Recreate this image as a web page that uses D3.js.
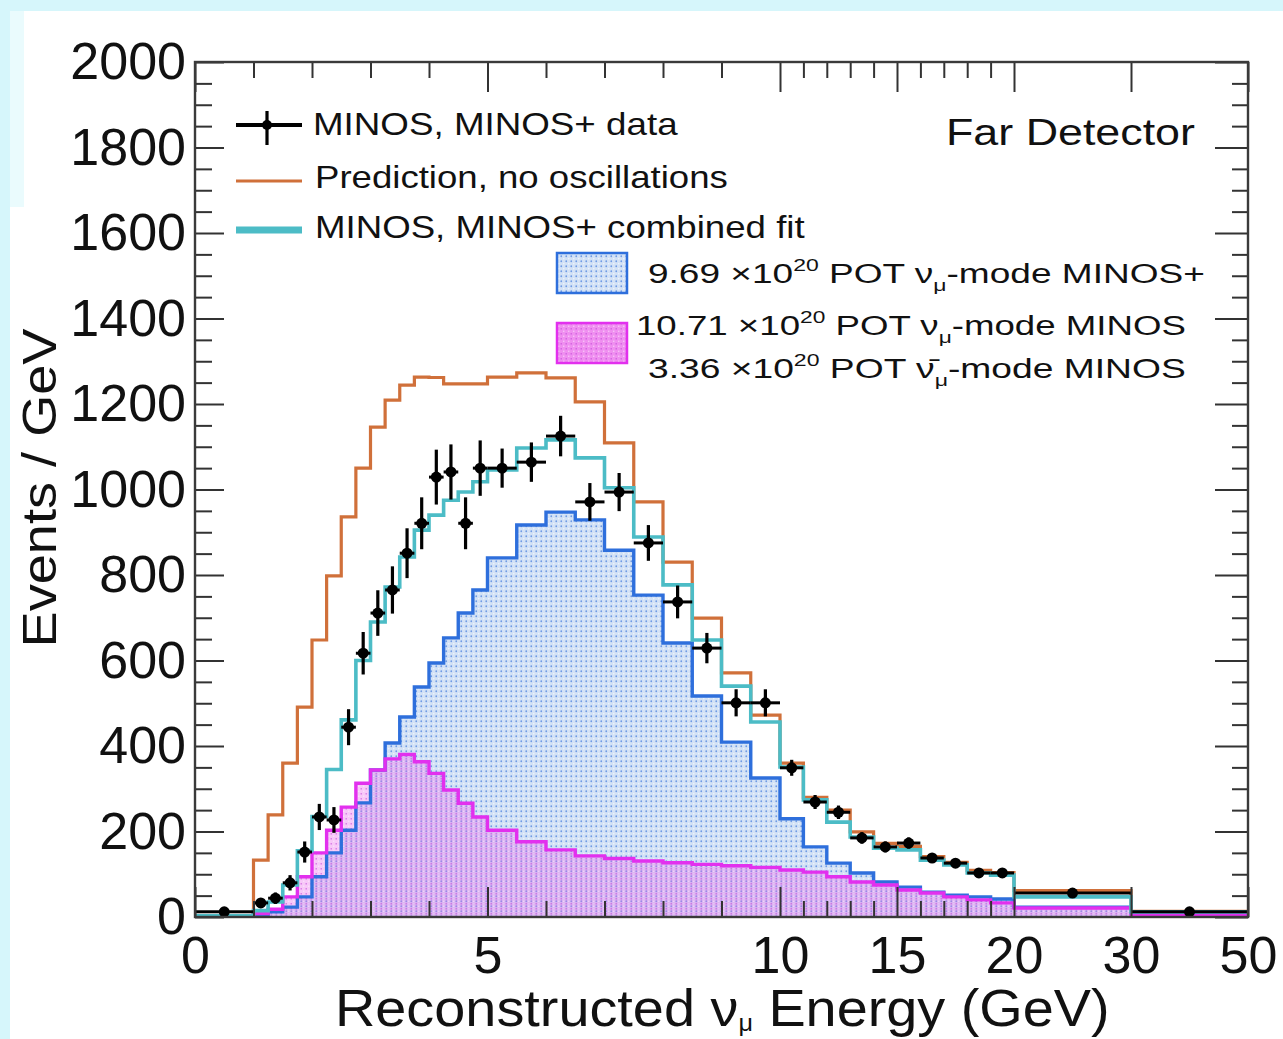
<!DOCTYPE html>
<html>
<head>
<meta charset="utf-8">
<script src="https://cdn.jsdelivr.net/npm/d3@7"></script>
<style>
  body { margin: 0; background: #ffffff; }
  svg { display: block; }
  text { font-family: "Liberation Sans", Arial, Helvetica, sans-serif; fill: #111; }
</style>
</head>
<body>
<svg id="chart" width="1283" height="1039"></svg>
<script>
// ---- Binning (GeV) ----
const binEdges = [0, 1, 1.25, 1.5, 1.75, 2, 2.25, 2.5, 2.75, 3, 3.25, 3.5, 3.75, 4, 4.25, 4.5, 4.75, 5,
                  5.5, 6, 6.5, 7, 7.5, 8, 8.5, 9, 9.5, 10,
                  11, 12, 13, 14, 15, 16, 17, 18, 19, 20, 30, 50];

// ---- Far Detector spectra, events / GeV, one value per bin ----
const dataValues = [12, 33, 44, 80, 152, 234, 227, 444, 617, 711, 765, 851, 921, 1029, 1041, 921, 1050,
                    1050, 1064, 1125, 971, 994, 875, 737, 629, 501, 501,
                    349, 269, 245, 185, 164, 173, 138, 126, 103, 103, 56, 12];
const dataErrors = [3.5, 11.5, 13.3, 17.9, 24.7, 30.6, 30.1, 42.1, 49.7, 53.3, 55.3, 58.3, 60.7, 64.2, 64.5, 60.7, 64.8,
                    45.8, 46.1, 47.4, 44.1, 44.6, 41.8, 38.4, 35.5, 31.7, 31.7,
                    18.7, 16.4, 15.7, 13.6, 12.8, 13.2, 11.7, 11.2, 10.1, 10.1, 2.4, 0.8];
const predictionNoOsc = [2, 133, 239, 360, 491, 648, 798, 936, 1050, 1146, 1209, 1244, 1263, 1262, 1247, 1247, 1247,
                         1263, 1273, 1261, 1205, 1109, 971, 830, 699, 571, 472,
                         360, 280, 250, 199, 172, 165, 141, 128, 109, 104, 62, 13];
const combinedFit = [3, 15, 35, 75, 155, 235, 345, 461, 600, 690, 772, 842, 905, 940, 975, 994, 1018,
                     1046, 1097, 1116, 1074, 1004, 889, 777, 648, 540, 456,
                     351, 274, 222, 187, 161, 157, 133, 122, 103, 98, 47, 12];
const minosPlusNuMu = [2, 5, 12, 23, 47, 94, 150, 203, 267, 344, 407, 468, 538, 594, 653, 711, 765,
                       840, 917, 947, 929, 858, 753, 641, 517, 409, 325,
                       230, 164, 126, 103, 82, 70, 58, 51, 47, 42, 23, 10];
const minosNuMu = [2, 8, 18, 47, 94, 150, 203, 257, 313, 344, 370, 380, 363, 336, 297, 266, 234,
                   203, 176, 157, 143, 137, 131, 127, 123, 120, 116,
                   110, 105, 94, 82, 75, 63, 56, 47, 40, 33, 21, 5];

// ---- Axis ticks ----
const xTickValues = [0, 5, 10, 15, 20, 30, 50];
const xMinorTicks = [1, 2, 3, 4, 6, 7, 8, 9, 11, 12, 13, 14, 16, 17, 18, 19];
const yTickValues = [0, 200, 400, 600, 800, 1000, 1200, 1400, 1600, 1800, 2000];
const yMinorTicks = [50, 100, 150, 250, 300, 350, 450, 500, 550, 650, 700, 750, 850, 900, 950,
                     1050, 1100, 1150, 1250, 1300, 1350, 1450, 1500, 1550, 1650, 1700, 1750, 1850, 1900, 1950];

// ---- Colours ----
const colOrange = "#d0703a";
const colTeal = "#4cbcc6";
const colBlue = "#2e6fdc";
const colMagenta = "#e230ee";

const svg = d3.select("#chart");
const W = 1283, H = 1039;
const frame = { left: 195, right: 1248, top: 62, bottom: 917 };
const fw = frame.right - frame.left;

// page background strips
svg.append("rect").attr("x", 0).attr("y", 0).attr("width", W).attr("height", H).attr("fill", "#ffffff");
svg.append("rect").attr("x", 0).attr("y", 0).attr("width", W).attr("height", 11).attr("fill", "#d6f6fb");
svg.append("rect").attr("x", 0).attr("y", 0).attr("width", 10).attr("height", H).attr("fill", "#d6f6fb");
svg.append("rect").attr("x", 10).attr("y", 11).attr("width", 14).attr("height", 196).attr("fill", "#eafbfd");

// piecewise energy axis: 0-10 wide, 10-20, 20-30, 30-50 compressed
const x = d3.scaleLinear()
  .domain([0, 10, 20, 30, 50])
  .range([frame.left, frame.left + fw * 5 / 9, frame.left + fw * 7 / 9, frame.left + fw * 8 / 9, frame.right]);
const y = d3.scaleLinear().domain([0, 2000]).range([frame.bottom, frame.top]);

const defs = svg.append("defs");
defs.append("clipPath").attr("id", "plotClip")
  .append("rect").attr("x", frame.left).attr("y", frame.top)
  .attr("width", fw).attr("height", frame.bottom - frame.top);

// dotted fills
const pb = defs.append("pattern").attr("id", "fillMinosPlus")
  .attr("width", 5).attr("height", 5).attr("patternUnits", "userSpaceOnUse");
pb.append("rect").attr("width", 5).attr("height", 5).attr("fill", "#d3e2f6");
pb.append("circle").attr("cx", 1.25).attr("cy", 1.25).attr("r", 0.9).attr("fill", "#6f9be4");
pb.append("circle").attr("cx", 3.75).attr("cy", 3.75).attr("r", 0.75).attr("fill", "#f3f7fd");

const pm = defs.append("pattern").attr("id", "fillMinos")
  .attr("width", 5).attr("height", 5).attr("patternUnits", "userSpaceOnUse");
pm.append("rect").attr("width", 5).attr("height", 5).attr("fill", "#e866ec").attr("fill-opacity", 0.36);
pm.append("circle").attr("cx", 1.25).attr("cy", 3.75).attr("r", 0.85).attr("fill", "#c03ad8").attr("fill-opacity", 0.6);
pm.append("circle").attr("cx", 3.75).attr("cy", 1.25).attr("r", 0.75).attr("fill", "#ffffff").attr("fill-opacity", 0.55);

// ---- histogram helpers ----
const stepPoints = vals => vals.map((v, i) => [binEdges[i], v])
  .concat([[binEdges[binEdges.length - 1], vals[vals.length - 1]]]);
const stepLine = d3.line().x(d => x(d[0])).y(d => y(d[1])).curve(d3.curveStepAfter);
const stepArea = d3.area().x(d => x(d[0])).y0(y(0)).y1(d => y(d[1])).curve(d3.curveStepAfter);

const plot = svg.append("g").attr("clip-path", "url(#plotClip)");

plot.append("path").attr("d", stepArea(stepPoints(minosPlusNuMu))).attr("fill", "url(#fillMinosPlus)");
plot.append("path").attr("d", stepArea(stepPoints(minosNuMu))).attr("fill", "url(#fillMinos)");
plot.append("path").attr("d", stepLine(stepPoints(minosPlusNuMu)))
  .attr("fill", "none").attr("stroke", colBlue).attr("stroke-width", 3.4);
plot.append("path").attr("d", stepLine(stepPoints(minosNuMu)))
  .attr("fill", "none").attr("stroke", colMagenta).attr("stroke-width", 3.4);
plot.append("path").attr("d", stepLine(stepPoints(predictionNoOsc)))
  .attr("fill", "none").attr("stroke", colOrange).attr("stroke-width", 3.2);
plot.append("path").attr("d", stepLine(stepPoints(combinedFit)))
  .attr("fill", "none").attr("stroke", colTeal).attr("stroke-width", 3.6);

// ---- data points with errors ----
const pts = dataValues.map((v, i) => ({
  lo: binEdges[i], hi: binEdges[i + 1], c: (binEdges[i] + binEdges[i + 1]) / 2, v, e: dataErrors[i]
}));
const dg = plot.append("g");
dg.selectAll("line.h").data(pts).join("line").attr("class", "h")
  .attr("x1", d => x(d.lo)).attr("x2", d => x(d.hi))
  .attr("y1", d => y(d.v)).attr("y2", d => y(d.v))
  .attr("stroke", "#000").attr("stroke-width", 3);
dg.selectAll("line.v").data(pts).join("line").attr("class", "v")
  .attr("x1", d => x(d.c)).attr("x2", d => x(d.c))
  .attr("y1", d => y(d.v - d.e)).attr("y2", d => y(d.v + d.e))
  .attr("stroke", "#000").attr("stroke-width", 3.2);
dg.selectAll("circle").data(pts).join("circle")
  .attr("cx", d => x(d.c)).attr("cy", d => y(d.v)).attr("r", 5.5).attr("fill", "#000");

// ---- axes ----
const tickColor = "#333";
function styleAxis(g) {
  g.select(".domain").remove();
  g.selectAll(".tick line").attr("stroke", tickColor).attr("stroke-width", 2);
  g.selectAll(".tick text").attr("font-size", 52).attr("fill", "#111")
    .attr("font-family", '"Liberation Sans", Arial, Helvetica, sans-serif');
}
svg.append("g").attr("transform", `translate(0,${frame.bottom})`)
  .call(d3.axisBottom(x).tickValues(xTickValues).tickFormat(d3.format("d"))
    .tickSizeInner(-30).tickSizeOuter(0).tickPadding(19))
  .call(styleAxis);
svg.append("g").attr("transform", `translate(0,${frame.bottom})`)
  .call(d3.axisBottom(x).tickValues(xMinorTicks).tickFormat("").tickSizeInner(-16).tickSizeOuter(0))
  .call(styleAxis);
svg.append("g").attr("transform", `translate(0,${frame.top})`)
  .call(d3.axisTop(x).tickValues(xTickValues).tickFormat("").tickSizeInner(-30).tickSizeOuter(0))
  .call(styleAxis);
svg.append("g").attr("transform", `translate(0,${frame.top})`)
  .call(d3.axisTop(x).tickValues(xMinorTicks).tickFormat("").tickSizeInner(-16).tickSizeOuter(0))
  .call(styleAxis);
svg.append("g").attr("transform", `translate(${frame.left},0)`)
  .call(d3.axisLeft(y).tickValues(yTickValues).tickFormat(d3.format("d"))
    .tickSizeInner(-29).tickSizeOuter(0).tickPadding(9))
  .call(styleAxis);
svg.append("g").attr("transform", `translate(${frame.left},0)`)
  .call(d3.axisLeft(y).tickValues(yMinorTicks).tickFormat("").tickSizeInner(-17).tickSizeOuter(0))
  .call(styleAxis);
svg.append("g").attr("transform", `translate(${frame.right},0)`)
  .call(d3.axisRight(y).tickValues(yTickValues).tickFormat("").tickSizeInner(-33).tickSizeOuter(0))
  .call(styleAxis);
svg.append("g").attr("transform", `translate(${frame.right},0)`)
  .call(d3.axisRight(y).tickValues(yMinorTicks).tickFormat("").tickSizeInner(-16).tickSizeOuter(0))
  .call(styleAxis);

svg.append("rect").attr("x", frame.left).attr("y", frame.top)
  .attr("width", fw).attr("height", frame.bottom - frame.top)
  .attr("fill", "none").attr("stroke", "#3a3a3a").attr("stroke-width", 2.4);

// ---- text helpers ----
function fitWidth(sel, anchorX, target) {
  const w = sel.node().getBBox().width;
  const sx = target / w;
  sel.attr("transform", `translate(${anchorX},0) scale(${sx},1) translate(${-anchorX},0)`);
}
function richText(parent, xPos, yPos, size, parts, subShift) {
  const t = parent.append("text").attr("x", xPos).attr("y", yPos).attr("font-size", size);
  const sub = subShift === undefined ? 0.28 : subShift;
  let shift = 0;
  parts.forEach(p => {
    const s = t.append("tspan").text(p.t);
    const want = p.sup ? -size * 0.42 : p.sub ? size * sub : 0;
    if (want !== shift) { s.attr("dy", want - shift); shift = want; }
    if (p.sup || p.sub) s.attr("font-size", size * (p.sub && subShift !== undefined ? 0.45 : 0.62));
  });
  return t;
}

// axis titles
const xt = richText(svg, 335, 1026, 52, [
  { t: "Reconstructed ν" }, { t: "μ", sub: true }, { t: " Energy (GeV)" }
], 0.1);
fitWidth(xt, 335, 775);

const yg = svg.append("g").attr("transform", "translate(56,488) rotate(-90)");
const yt = yg.append("text").attr("x", 0).attr("y", 0).attr("text-anchor", "middle")
  .attr("font-size", 48).text("Events / GeV");
yt.attr("transform", `scale(${319 / yt.node().getBBox().width},1)`);

// ---- legend ----
const lg = svg.append("g");
lg.append("line").attr("x1", 236).attr("x2", 302).attr("y1", 125).attr("y2", 125)
  .attr("stroke", "#000").attr("stroke-width", 4);
lg.append("line").attr("x1", 267).attr("x2", 267).attr("y1", 111).attr("y2", 145)
  .attr("stroke", "#000").attr("stroke-width", 3.2);
lg.append("circle").attr("cx", 267).attr("cy", 125).attr("r", 5).attr("fill", "#000");
lg.append("line").attr("x1", 236).attr("x2", 302).attr("y1", 181).attr("y2", 181)
  .attr("stroke", colOrange).attr("stroke-width", 3);
lg.append("line").attr("x1", 236).attr("x2", 302).attr("y1", 230).attr("y2", 230)
  .attr("stroke", colTeal).attr("stroke-width", 7);

const l1 = lg.append("text").attr("x", 313).attr("y", 135).attr("font-size", 32).text("MINOS, MINOS+ data");
fitWidth(l1, 313, 365);
const l2 = lg.append("text").attr("x", 315).attr("y", 188).attr("font-size", 32).text("Prediction, no oscillations");
fitWidth(l2, 315, 413);
const l3 = lg.append("text").attr("x", 315).attr("y", 238).attr("font-size", 32).text("MINOS, MINOS+ combined fit");
fitWidth(l3, 315, 490);

lg.append("rect").attr("x", 557).attr("y", 253).attr("width", 70).attr("height", 40)
  .attr("fill", "url(#fillMinosPlus)").attr("stroke", colBlue).attr("stroke-width", 2.5);
lg.append("rect").attr("x", 557).attr("y", 323).attr("width", 70).attr("height", 40)
  .attr("fill", "#f3a6f3").attr("stroke", "none");
lg.append("rect").attr("x", 557).attr("y", 323).attr("width", 70).attr("height", 40)
  .attr("fill", "url(#fillMinos)").attr("stroke", colMagenta).attr("stroke-width", 2.5);

const l4 = richText(lg, 648, 283, 28, [
  { t: "9.69 ×10" }, { t: "20", sup: true }, { t: " POT ν" }, { t: "μ", sub: true }, { t: "-mode MINOS+" }
]);
fitWidth(l4, 648, 557);
const l5 = richText(lg, 636, 335, 28, [
  { t: "10.71 ×10" }, { t: "20", sup: true }, { t: " POT ν" }, { t: "μ", sub: true }, { t: "-mode MINOS" }
]);
fitWidth(l5, 636, 550);
const l6 = richText(lg, 648, 378, 28, [
  { t: "3.36 ×10" }, { t: "20", sup: true }, { t: " POT ν\u0304" }, { t: "μ", sub: true }, { t: "-mode MINOS" }
]);
fitWidth(l6, 648, 538);

const fd = svg.append("text").attr("x", 946).attr("y", 145).attr("font-size", 37).text("Far Detector");
fitWidth(fd, 946, 249);
</script>
</body>
</html>
